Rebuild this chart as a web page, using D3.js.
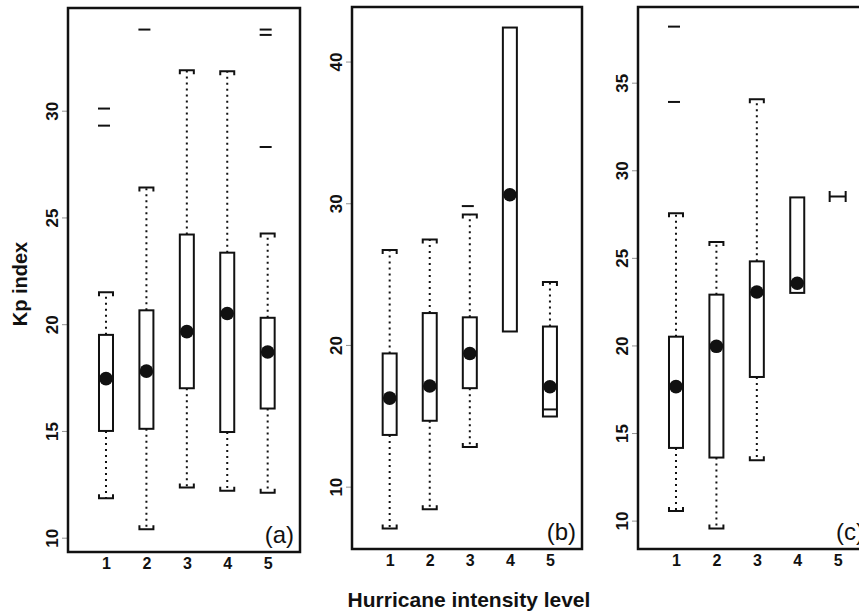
<!DOCTYPE html>
<html>
<head>
<meta charset="utf-8">
<script src="https://cdn.jsdelivr.net/npm/d3@7"></script>
<style>
  body { margin: 0; background: #fff; }
  text { font-family: "Liberation Sans", Arial, Helvetica, sans-serif; fill: #111; }
</style>
</head>
<body>
<svg id="chart" width="859" height="612"></svg>
<script>
const groups = [1, 2, 3, 4, 5];

// (a)
const aLow  = [11.85, 10.4, 12.35, 12.2, 12.1];
const aQ1   = [15.0, 15.1, 17.0, 14.95, 16.05];
const aQ3   = [19.5, 20.65, 24.2, 23.35, 20.3];
const aHigh = [21.5, 26.4, 31.9, 31.85, 24.25];
const aDot  = [17.45, 17.8, 19.65, 20.5, 18.7];
const aMed  = [null, null, null, null, null];
const aOut  = [[30.1, 29.3], [33.8], [], [], [33.8, 33.55, 28.3]];
const aTicks = [10, 15, 20, 25, 30];

// (b)
const bLow  = [7.05, 8.4, 12.8, null, null];
const bQ1   = [13.65, 14.65, 16.95, 20.95, 14.95];
const bQ3   = [19.4, 22.25, 21.95, 42.4, 21.3];
const bHigh = [26.7, 27.45, 29.2, null, 24.45];
const bDot  = [16.25, 17.1, 19.4, 30.6, 17.05];
const bMed  = [null, null, null, null, 15.45];
const bOut  = [[], [], [29.8], [], []];
const bTicks = [10, 20, 30, 40];

// (c)
const cLow  = [10.55, 9.55, 13.45, null, null];
const cQ1   = [14.15, 13.6, 18.2, 23.0, 28.5];
const cQ3   = [20.5, 22.9, 24.8, 28.45, 28.5];
const cHigh = [27.55, 25.9, 34.05, null, null];
const cDot  = [17.65, 19.95, 23.05, 23.55, null];
const cMed  = [null, null, null, null, null];
const cOut  = [[38.2, 33.9], [], [], [], []];
const cTicks = [10, 15, 20, 25, 30, 35];

const panels = [
  {label: '(a)', left: 68,  right: 300, top: 8, bottom: 552, ydom: [9.33, 34.81], ticks: aTicks,
   low: aLow, q1: aQ1, q3: aQ3, high: aHigh, dot: aDot, med: aMed, out: aOut},
  {label: '(b)', left: 352, right: 582, top: 7, bottom: 549, ydom: [5.6, 43.85], ticks: bTicks,
   low: bLow, q1: bQ1, q3: bQ3, high: bHigh, dot: bDot, med: bMed, out: bOut},
  {label: '(c)', left: 638, right: 870, top: 7, bottom: 549, ydom: [8.38, 39.32], ticks: cTicks,
   low: cLow, q1: cQ1, q3: cQ3, high: cHigh, dot: cDot, med: cMed, out: cOut}
];

const svg = d3.select('#chart');
const bw = 14;    // box width
const cap = 4;    // bracket tick length

panels.forEach(p => {
  const x = d3.scaleLinear().domain([0.06, 5.8]).range([p.left, p.right]);
  const y = d3.scaleLinear().domain(p.ydom).range([p.bottom, p.top]);
  const g = svg.append('g');

  //y axis (labels rotated, R style)
  const yAx = g.append('g')
    .attr('transform', `translate(${p.left},0)`)
    .call(d3.axisLeft(y).tickValues(p.ticks).tickSize(6).tickFormat(d3.format('d')));
  yAx.select('.domain').remove();
  yAx.selectAll('line').attr('stroke', '#777').attr('stroke-width', 0.8);
  yAx.selectAll('text')
    .attr('x', null).attr('dy', null)
    .attr('transform', 'translate(-10,0) rotate(-90)')
    .attr('text-anchor', 'middle')
    .style('font-size', '17px').style('font-weight', 'bold')
    .attr('fill', '#111');

  //x axis
  const xAx = g.append('g')
    .attr('transform', `translate(0,${p.bottom})`)
    .call(d3.axisBottom(x).tickValues(groups).tickSize(0).tickFormat(d3.format('d')));
  xAx.select('.domain').remove();
  xAx.selectAll('text')
    .attr('y', 17).attr('dy', null)
    .style('font-size', '16px').style('font-weight', 'bold')
    .attr('fill', '#111');

  const rows = groups.map((k, i) => ({k, low: p.low[i], q1: p.q1[i], q3: p.q3[i], high: p.high[i],
                                       dot: p.dot[i], med: p.med[i], out: p.out[i]}));

  //whiskers
  rows.filter(d => d.high != null).forEach(d => {
    g.append('line').attr('x1', x(d.k)).attr('x2', x(d.k))
      .attr('y1', y(d.q3)).attr('y2', y(d.high))
      .attr('stroke', '#111').attr('stroke-width', 2).attr('stroke-dasharray', '2,4');
    const yy = y(d.high);
    g.append('path')
      .attr('d', `M${x(d.k) - bw / 2},${yy + cap}V${yy}H${x(d.k) + bw / 2}V${yy + cap}`)
      .attr('fill', 'none').attr('stroke', '#111').attr('stroke-width', 2);
  });
  rows.filter(d => d.low != null).forEach(d => {
    g.append('line').attr('x1', x(d.k)).attr('x2', x(d.k))
      .attr('y1', y(d.q1)).attr('y2', y(d.low))
      .attr('stroke', '#111').attr('stroke-width', 2).attr('stroke-dasharray', '2,4');
    const yy = y(d.low);
    g.append('path')
      .attr('d', `M${x(d.k) - bw / 2},${yy - cap}V${yy}H${x(d.k) + bw / 2}V${yy - cap}`)
      .attr('fill', 'none').attr('stroke', '#111').attr('stroke-width', 2);
  });

  //boxes
  rows.forEach(d => {
    if (d.q3 > d.q1) {
      g.append('rect')
        .attr('x', x(d.k) - bw / 2).attr('y', y(d.q3))
        .attr('width', bw).attr('height', y(d.q1) - y(d.q3))
        .attr('fill', '#fff').attr('stroke', '#111').attr('stroke-width', 2);
    } else {
      // collapsed box: flat bar with end serifs
      const yy = y(d.q1), x0 = x(d.k) - bw / 2 - 1, x1 = x(d.k) + bw / 2 + 1;
      g.append('path')
        .attr('d', `M${x0},${yy}H${x1}M${x0},${yy - 5.5}V${yy + 5.5}M${x1},${yy - 5.5}V${yy + 5.5}`)
        .attr('fill', 'none').attr('stroke', '#111').attr('stroke-width', 2);
    }
    if (d.med != null) {
      g.append('line').attr('x1', x(d.k) - bw / 2).attr('x2', x(d.k) + bw / 2)
        .attr('y1', y(d.med)).attr('y2', y(d.med))
        .attr('stroke', '#111').attr('stroke-width', 2);
    }
  });

  //outliers
  rows.forEach(d => {
    d.out.forEach(v => {
      g.append('line')
        .attr('x1', x(d.k) - 8).attr('x2', x(d.k) + 4)
        .attr('y1', y(v)).attr('y2', y(v))
        .attr('stroke', '#111').attr('stroke-width', 2);
    });
  });

  //dots
  g.selectAll('circle')
    .data(rows.filter(d => d.dot != null))
    .enter()
    .append('circle')
    .attr('cx', d => x(d.k))
    .attr('cy', d => y(d.dot))
    .attr('r', 6.8)
    .attr('fill', '#111');

  //frame
  g.append('rect')
    .attr('x', p.left).attr('y', p.top)
    .attr('width', p.right - p.left).attr('height', p.bottom - p.top)
    .attr('fill', 'none').attr('stroke', '#111').attr('stroke-width', 2.5);

  g.append('text')
    .attr('x', p.right - 6).attr('y', p.bottom - 9)
    .attr('text-anchor', 'end')
    .style('font-size', '24px')
    .text(p.label);
});

//Axis titles
svg.append('text')
  .attr('x', 469).attr('y', 607)
  .attr('text-anchor', 'middle')
  .style('font-size', '21px').style('font-weight', 'bold')
  .text('Hurricane intensity level');

svg.append('text')
  .attr('transform', 'translate(27,284) rotate(-90)')
  .attr('text-anchor', 'middle')
  .style('font-size', '20px').style('font-weight', 'bold')
  .text('Kp index');
</script>
</body>
</html>
